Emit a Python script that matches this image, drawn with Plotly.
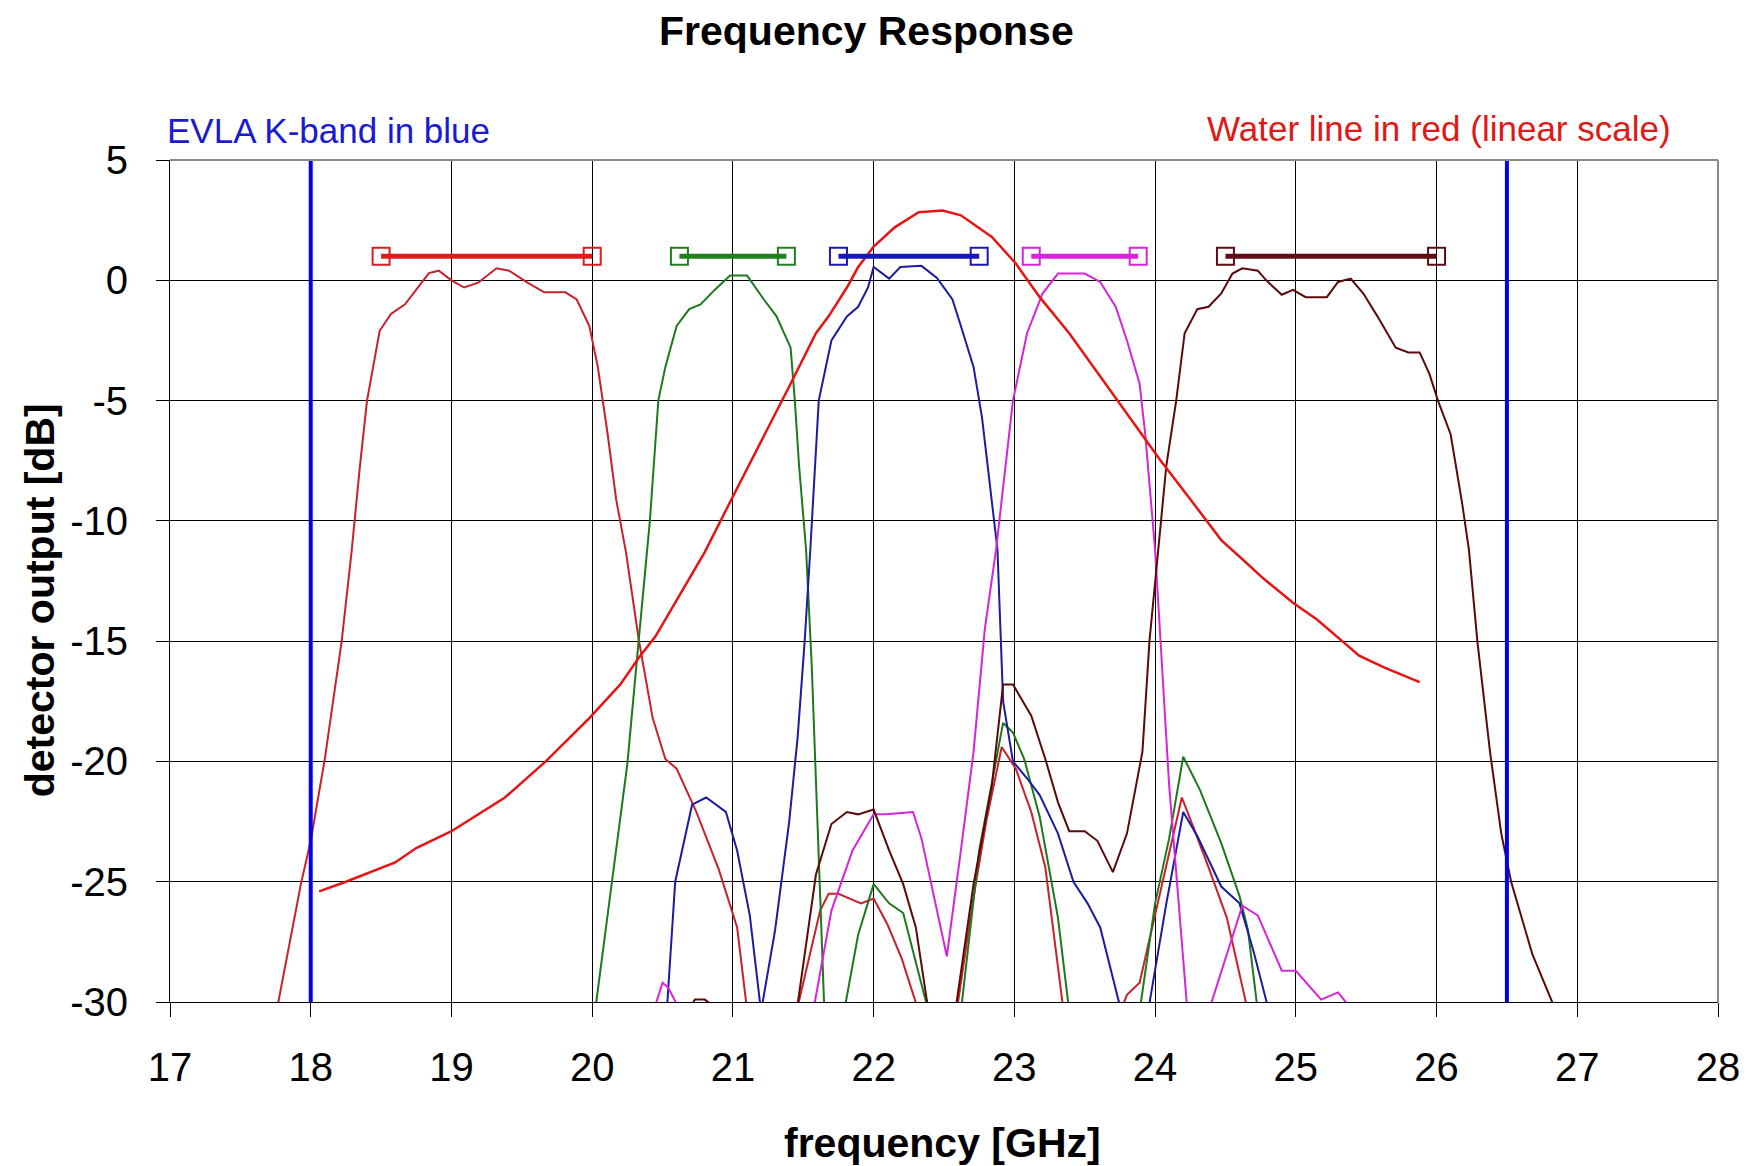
import plotly.graph_objects as go

# ---- axis ticks ----
x_ticks = [17, 18, 19, 20, 21, 22, 23, 24, 25, 26, 27, 28]
y_ticks = [5, 0, -5, -10, -15, -20, -25, -30]
y_tick_text = ['5', '0', '-5', '-10', '-15', '-20', '-25', '-30']

# ---- EVLA K-band edges [GHz] ----
kband_edges = [18.0, 26.5]

# ---- filter 1 (18.5-20 GHz) ----
f1_ghz = [17.76, 17.93, 18.0, 18.1, 18.22, 18.29, 18.35, 18.4, 18.49, 18.57, 18.67, 18.75,
          18.84, 18.91, 19.0, 19.09, 19.19, 19.32, 19.41, 19.54, 19.66, 19.81, 19.89, 19.98,
          20.04, 20.11, 20.17, 20.24, 20.33, 20.43, 20.52, 20.6, 20.74, 20.9, 21.03, 21.1,
          None, 21.46, 21.55, 21.62, 21.68, 21.75, 21.83, 21.91, 22.0, 22.1, 22.2, 22.32,
          None, 22.59, 22.7, 22.8, 22.91, 23.01, 23.12, 23.22, 23.35,
          None, 23.76, 23.8, 23.89, 23.99, 24.1, 24.19, 24.25, 24.38, 24.51, 24.66]
f1_db = [-30.3, -25.1, -23.3, -19.9, -15.0, -11.3, -7.7, -5.0, -2.1, -1.4, -1.0, -0.4,
         0.3, 0.4, 0.0, -0.3, -0.1, 0.5, 0.4, -0.1, -0.5, -0.5, -0.8, -1.9,
         -3.6, -6.4, -9.1, -11.3, -14.9, -18.2, -19.9, -20.3, -22.1, -24.5, -26.9, -30.3,
         None, -30.2, -28.0, -26.2, -25.5, -25.5, -25.7, -25.9, -25.7, -26.8, -28.2, -30.4,
         None, -30.4, -26.0, -22.5, -19.4, -20.3, -22.1, -24.4, -30.4,
         None, -30.3, -29.7, -29.2, -26.6, -23.8, -21.5, -22.4, -24.4, -26.5, -30.4]

# ---- filter 2 (20.6-21.4 GHz) ----
f2_ghz = [20.02, 20.14, 20.25, 20.33, 20.41, 20.47, 20.52, 20.6, 20.69, 20.77, 20.87, 20.98,
          21.1, 21.22, 21.31, 21.41, 21.44, 21.47, 21.52, 21.56, 21.6, 21.65,
          None, 21.79, 21.89, 22.0, 22.11, 22.21, 22.39,
          None, 22.62, 22.75, 22.92, 22.99, 23.07, 23.18, 23.31, 23.39,
          None, 23.89, 24.0, 24.1, 24.2, 24.32, 24.47, 24.6, 24.66, 24.73]
f2_db = [-30.4, -25.1, -20.1, -15.0, -10.0, -5.0, -3.6, -1.9, -1.2, -1.0, -0.4, 0.2,
         0.2, -0.8, -1.5, -2.8, -5.0, -7.7, -11.2, -16.0, -22.5, -30.4,
         None, -30.4, -27.2, -25.1, -25.9, -26.3, -30.4,
         None, -30.4, -23.7, -18.4, -18.8, -19.9, -22.3, -26.5, -30.4,
         None, -30.4, -25.9, -23.2, -19.8, -21.2, -23.4, -25.6, -27.0, -30.4]

# ---- filter 3 (21.75-22.75 GHz) ----
f3_ghz = [20.53, 20.59, 20.71, 20.81, 20.95, 21.03, 21.12, 21.2, 21.3, 21.4, 21.46, 21.51,
          21.55, 21.61, 21.7, 21.81, 21.89, 21.96, 22.0, 22.11, 22.19, 22.34, 22.45, 22.56,
          22.62, 22.71, 22.77, 22.84, 22.88, 22.92, 22.99, 23.09, 23.18, 23.31, 23.42, 23.52,
          23.61, 23.76,
          None, 23.95, 24.08, 24.2, 24.3, 24.47, 24.6, 24.7, 24.81]
f3_db = [-30.4, -25.0, -21.8, -21.5, -22.1, -23.7, -26.4, -30.4, -27.0, -22.5, -19.0, -15.0,
         -11.2, -5.0, -2.5, -1.5, -1.1, -0.3, 0.55, 0.07, 0.55, 0.6, 0.1, -0.8,
         -1.9, -3.6, -5.7, -9.1, -11.2, -17.5, -20.0, -20.7, -21.4, -23.0, -25.0, -25.9,
         -26.9, -30.4,
         None, -30.4, -25.9, -22.1, -23.1, -25.2, -25.9, -27.9, -30.4]

# ---- filter 4 (23.1-23.9 GHz) ----
f4_ghz = [20.44, 20.5, 20.54, 20.62,
          None, 21.57, 21.7, 21.85, 22.0, 22.09, 22.28, 22.34, 22.52, 22.62, 22.71, 22.79,
          22.87, 22.99, 23.09, 23.2, 23.31, 23.5, 23.61, 23.72, 23.8, 23.89, 23.93, 24.0,
          24.1, 24.23,
          None, 24.38, 24.62, 24.73, 24.9, 25.0, 25.18, 25.3, 25.41]
f4_db = [-30.3, -29.2, -29.4, -30.3,
         None, -30.4, -26.2, -23.7, -22.2, -22.2, -22.1, -23.2, -28.1, -23.7, -19.6, -14.5,
         -11.2, -5.0, -2.2, -0.55, 0.28, 0.28, -0.07, -1.1, -2.5, -4.3, -6.4, -11.2,
         -21.0, -30.4,
         None, -30.4, -26.0, -26.4, -28.7, -28.7, -29.9, -29.6, -30.4]

# ---- filter 5 (24.5-26 GHz) ----
f5_ghz = [20.69, 20.73, 20.8, 20.89,
          None, 21.46, 21.59, 21.7, 21.81, 21.89, 22.0, 22.11, 22.21, 22.3, 22.39,
          None, 22.58, 22.71, 22.84, 22.92, 22.99, 23.12, 23.22, 23.31, 23.39, 23.5, 23.59,
          23.7, 23.8, 23.91, 23.96, 24.02, 24.08, 24.15, 24.21, 24.3, 24.38, 24.47, 24.55,
          24.62, 24.73, 24.79, 24.9, 24.98, 25.07, 25.22, 25.3, 25.39, 25.48, 25.58, 25.71,
          25.8, 25.88, 25.95, 26.01, 26.1, 26.18, 26.23, 26.29, 26.38, 26.46, 26.53, 26.68,
          26.85]
f5_db = [-30.3, -29.9, -29.9, -30.3,
         None, -30.1, -24.7, -22.6, -22.1, -22.2, -22.0, -23.7, -25.1, -26.9, -30.4,
         None, -30.4, -25.1, -21.0, -16.8, -16.8, -18.1, -19.9, -21.7, -22.9, -22.9, -23.3,
         -24.6, -23.0, -19.6, -15.0, -11.2, -7.7, -5.0, -2.2, -1.2, -1.1, -0.55, 0.28,
         0.5, 0.4, 0.0, -0.6, -0.4, -0.7, -0.7, -0.07, 0.07, -0.55, -1.5, -2.8,
         -3.0, -3.0, -3.9, -5.0, -6.4, -9.2, -11.2, -15.0, -19.6, -23.0, -25.0, -28.0,
         -30.4]

# ---- water line (linear scale) ----
water_ghz = [18.06, 18.25, 18.6, 18.75, 19.0, 19.38, 19.67, 19.98, 20.2, 20.33, 20.45, 20.6,
             20.8, 20.99, 21.22, 21.41, 21.59, 21.68, 21.81, 21.89, 22.0, 22.15, 22.32, 22.49,
             22.62, 22.84, 23.01, 23.18, 23.39, 23.61, 23.82, 24.04, 24.25, 24.47, 24.64, 24.77,
             24.98, 25.15, 25.33, 25.45, 25.63, 25.76, 25.88]
water_db = [-25.4, -25.0, -24.2, -23.6, -22.9, -21.5, -20.0, -18.2, -16.8, -15.7, -14.8, -13.3,
            -11.3, -9.1, -6.5, -4.3, -2.2, -1.5, -0.3, 0.55, 1.4, 2.2, 2.83, 2.9,
            2.7, 1.8, 0.7, -0.7, -2.2, -4.0, -5.7, -7.5, -9.1, -10.8, -11.7, -12.4,
            -13.4, -14.1, -15.0, -15.6, -16.1, -16.4, -16.7]

# ---- nominal passband of each filter ----
band_lo = [18.5, 20.62, 21.75, 23.12, 24.5]
band_hi = [20.0, 21.38, 22.75, 23.88, 26.0]
band_level = 1.0

curve_colors = ['#c8202c', '#1e781e', '#1c1ca0', '#d824d8', '#5a0a0a']
bar_colors = ['#dd1c1c', '#208020', '#1818b8', '#d824d8', '#600c14']
water_color = '#e81414'
kband_color = '#0000ee'

curves = [(f1_ghz, f1_db), (f2_ghz, f2_db), (f3_ghz, f3_db), (f4_ghz, f4_db), (f5_ghz, f5_db)]

fig = go.Figure()

for (xs, ys), c in zip(curves, curve_colors):
    fig.add_trace(go.Scatter(x=xs, y=ys, mode='lines', line=dict(color=c, width=2),
                             connectgaps=False, hoverinfo='skip', showlegend=False))

fig.add_trace(go.Scatter(x=water_ghz, y=water_db, mode='lines',
                         line=dict(color=water_color, width=2.5),
                         hoverinfo='skip', showlegend=False))

for lo, hi, c in zip(band_lo, band_hi, bar_colors):
    fig.add_trace(go.Scatter(x=[lo, hi], y=[band_level, band_level], mode='lines+markers',
                             line=dict(color=c, width=5),
                             marker=dict(symbol='square-open', size=17, color=c,
                                         line=dict(color=c, width=2)),
                             hoverinfo='skip', showlegend=False))

for edge in kband_edges:
    fig.add_trace(go.Scatter(x=[edge, edge], y=[y_ticks[-1], y_ticks[0]], mode='lines',
                             line=dict(color=kband_color, width=4),
                             hoverinfo='skip', showlegend=False))

bold = dict(family='Liberation Sans, Arial, sans-serif', size=41, color='black', weight='bold')

fig.update_layout(
    width=1752, height=1166,
    margin=dict(l=170, r=28, t=160, b=164),
    paper_bgcolor='white', plot_bgcolor='white',
    showlegend=False,
    font=dict(family='Liberation Sans, Arial, sans-serif', size=40, color='black'),
)

fig.update_xaxes(range=[17, 28], tickmode='array', tickvals=x_ticks,
                 ticks='outside', ticklen=14, tickwidth=1, tickcolor='black',
                 showgrid=True, gridcolor='black', gridwidth=1,
                 showline=True, linecolor='black', linewidth=1,
                 zeroline=False, ticklabelstandoff=16)
fig.update_yaxes(range=[-30, 5], tickmode='array', tickvals=y_ticks, ticktext=y_tick_text,
                 ticks='outside', ticklen=13, tickwidth=1, tickcolor='black',
                 showgrid=True, gridcolor='black', gridwidth=1,
                 showline=True, linecolor='black', linewidth=1,
                 zeroline=False, ticklabelstandoff=20)

# grey frame on the top and right edges of the plot area
fig.add_shape(type='line', xref='paper', yref='paper', x0=0, x1=1, y0=1, y1=1,
              line=dict(color='#8a8a8a', width=2), layer='above')
fig.add_shape(type='line', xref='paper', yref='paper', x0=1, x1=1, y0=0, y1=1,
              line=dict(color='#8a8a8a', width=2), layer='above')

fig.add_annotation(text='Frequency Response', xref='paper', yref='paper',
                   x=0.4498, y=1.1532, xanchor='center', yanchor='middle',
                   showarrow=False, font=bold)
fig.add_annotation(text='frequency [GHz]', xref='paper', yref='paper',
                   x=0.499, y=-0.1675, xanchor='center', yanchor='middle',
                   showarrow=False, font=bold)
fig.add_annotation(text='detector output [dB]', xref='paper', yref='paper',
                   x=-0.0838, y=0.4774, xanchor='center', yanchor='middle',
                   textangle=-90, showarrow=False, font=bold)
fig.add_annotation(text='EVLA K-band in blue', xref='paper', yref='paper',
                   x=-0.0032, y=1.0356, xanchor='left', yanchor='middle',
                   showarrow=False,
                   font=dict(family='Liberation Sans, Arial, sans-serif', size=35, color='#1a1ad0'))
fig.add_annotation(text='Water line in red (linear scale)', xref='paper', yref='paper',
                   x=0.971, y=1.038, xanchor='right', yanchor='middle',
                   showarrow=False,
                   font=dict(family='Liberation Sans, Arial, sans-serif', size=35, color='#e01818'))

fig.write_html('out.html')
